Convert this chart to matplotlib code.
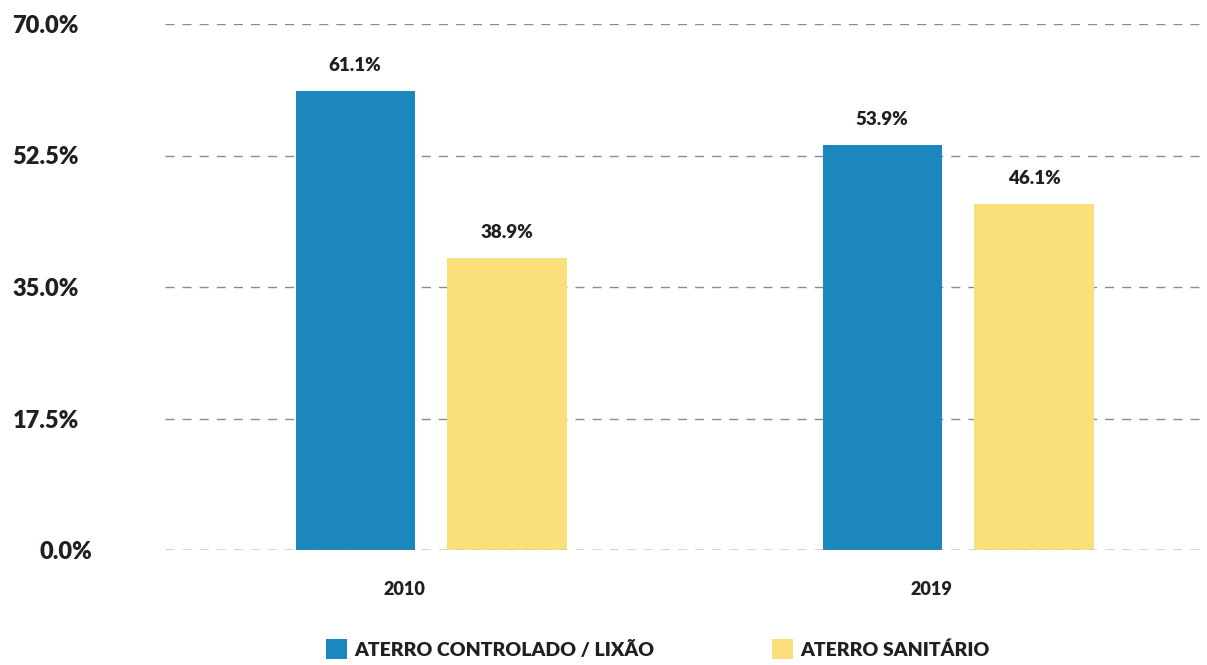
import matplotlib
matplotlib.use("Agg")
import matplotlib.pyplot as plt
from matplotlib.patches import Patch
from matplotlib.transforms import ScaledTranslation
import numpy as np

years = ["2010", "2019"]
series_names = ["ATERRO CONTROLADO / LIXÃO", "ATERRO SANITÁRIO"]
controlado = [61.1, 53.9]
sanitario = [38.9, 46.1]
yticks = [0.0, 17.5, 35.0, 52.5, 70.0]

BLUE = "#1c87bd"
YELLOW = "#fbdf7a"
TEXT = "#231f20"
GRID = "#8c8c8c"
WT = 'heavy'

plt.rcParams['font.family'] = ['Lato', 'DejaVu Sans']
plt.rcParams['font.weight'] = WT

fig = plt.figure(figsize=(12.07, 6.65), dpi=100)
ax = fig.add_axes([165/1207, 1-550/665, (1200-165)/1207, (550-24)/665])

x = np.arange(len(years))
w = 0.226
off = 0.144
b1 = ax.bar(x - off, controlado, w, color=BLUE, zorder=2)
b2 = ax.bar(x + off, sanitario, w, color=YELLOW, zorder=2)
ax.bar_label(b1, labels=[f"{v:.1f}%" for v in controlado], padding=12,
             fontsize=13.5, fontweight=WT, color=TEXT)
ax.bar_label(b2, labels=[f"{v:.1f}%" for v in sanitario], padding=12,
             fontsize=13.5, fontweight=WT, color=TEXT)

ax.set_xlim(-0.505, 1.459)
ax.set_ylim(0, 70)
ax.set_yticks(yticks)
ax.set_yticklabels([f"{v:.1f}%" for v in yticks], fontsize=17, fontweight=WT, color=TEXT)
ax.set_xticks(x - 0.05)
ax.set_xticklabels(years, fontsize=13, fontweight=WT, color=TEXT)
ax.tick_params(axis='y', length=0, pad=62)
ax.tick_params(axis='x', length=0, pad=22)
# the 0.0% label sits a little further right in the original
lbl0 = ax.get_yticklabels()[0]
lbl0.set_transform(lbl0.get_transform() + ScaledTranslation(0.13, 0, fig.dpi_scale_trans))
dash = (0, (6.5, 5.8))
ax.yaxis.grid(True, linestyle=dash, color=GRID, linewidth=1.0, zorder=0)
ax.set_axisbelow(True)
ax.axhline(0, linestyle=dash, color=GRID, linewidth=1.0, zorder=3)
for s in ax.spines.values():
    s.set_visible(False)

handles = [Patch(facecolor=BLUE), Patch(facecolor=YELLOW)]
fig.legend(handles, series_names, loc='lower center', bbox_to_anchor=(0.545, -0.018),
           ncol=2, frameon=False, prop={'size': 14, 'weight': WT},
           handlelength=1.1, handleheight=1.25, handletextpad=0.4, columnspacing=6.0,
           labelcolor=TEXT)

fig.savefig("out.png", dpi=100)
